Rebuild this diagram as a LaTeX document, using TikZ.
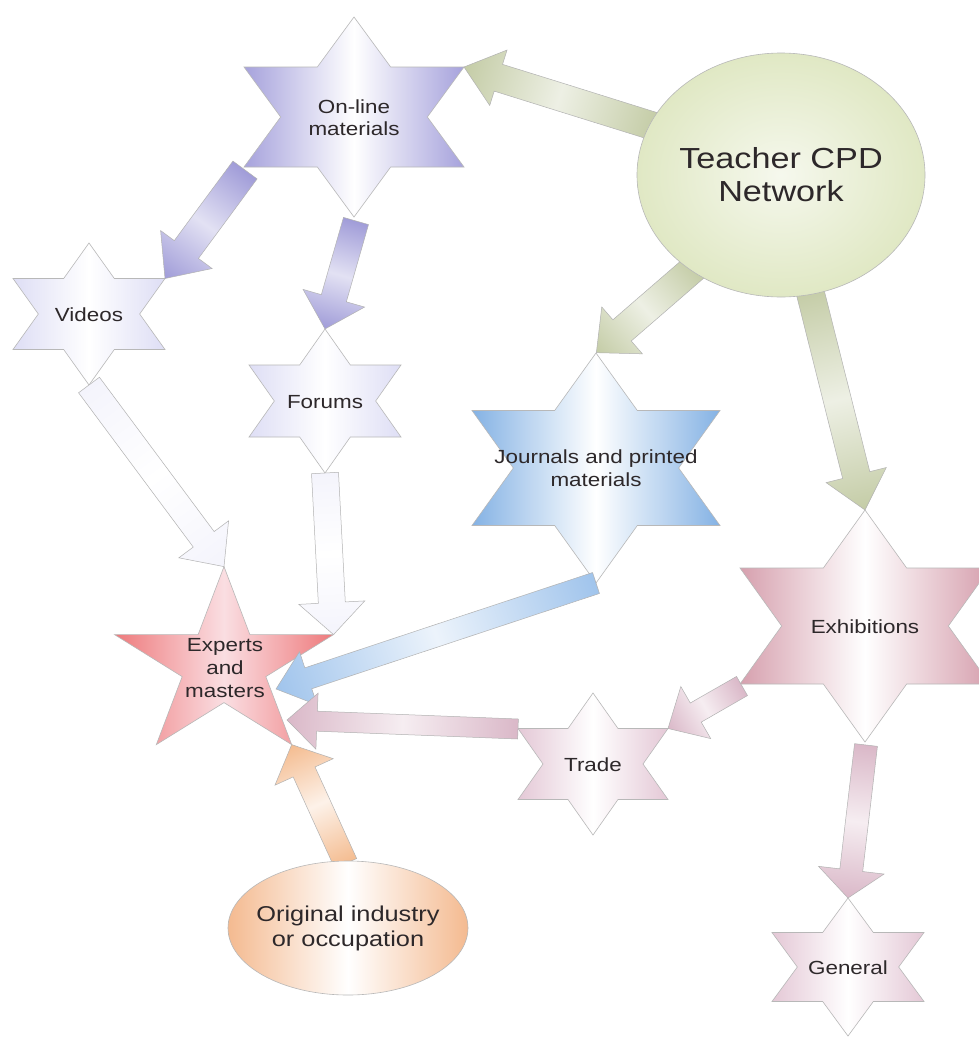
\documentclass[tikz,border=0pt]{standalone}
\usepackage{fontspec}
\setmainfont{Liberation Sans}[FakeStretch=1.18]
\usetikzlibrary{calc,shapes.geometric}

\definecolor{txt}{RGB}{45,40,42}
\definecolor{onlinePurple}{RGB}{166,162,220}
\definecolor{paleLav}{RGB}{222,222,245}
\definecolor{jBlue}{RGB}{132,178,228}
\definecolor{exPink}{RGB}{214,160,174}
\definecolor{palePink}{RGB}{228,200,214}
\definecolor{expRed}{RGB}{238,122,124}
\definecolor{expPale}{RGB}{250,222,226}
\definecolor{cpdGreen}{RGB}{224,232,196}
\definecolor{origOrange}{RGB}{244,186,144}
\definecolor{arGreen}{RGB}{196,204,166}
\definecolor{arPurple}{RGB}{160,156,216}
\definecolor{arBlue}{RGB}{160,196,236}
\definecolor{arPink}{RGB}{218,184,200}
\definecolor{arOrange}{RGB}{244,188,144}
\definecolor{arWhite}{RGB}{244,244,252}

\newdimen\arTx \newdimen\arTy \newdimen\arHx \newdimen\arHy

% block arrow from a tail coordinate to a tip coordinate
% #1 style, #2 tail, #3 tip, #4 shaft width, #5 head width, #6 head length
\newcommand\blockarrow[6]{%
  \pgfextractx{\arTx}{\pgfpointanchor{#2}{center}}%
  \pgfextracty{\arTy}{\pgfpointanchor{#2}{center}}%
  \pgfextractx{\arHx}{\pgfpointanchor{#3}{center}}%
  \pgfextracty{\arHy}{\pgfpointanchor{#3}{center}}%
  \pgfmathsetmacro\arAng{atan2(\arHy-\arTy,\arHx-\arTx)}%
  \pgfmathsetmacro\arLen{veclen(\arHx-\arTx,\arHy-\arTy)}%
  \pgfmathsetmacro\arNeck{\arLen-#6}%
  \pgfmathsetmacro\arS{#4/2}%
  \pgfmathsetmacro\arH{#5/2}%
  \edef\arSx{\the\arTx}\edef\arSy{\the\arTy}%
  \begin{scope}[transform canvas={shift={(\arSx,\arSy)},rotate=\arAng}]
    \path[#1] (0pt,-\arS pt) -- (\arNeck pt,-\arS pt) -- (\arNeck pt,-\arH pt)
      -- (\arLen pt,0pt) -- (\arNeck pt,\arH pt) -- (\arNeck pt,\arS pt)
      -- (0pt,\arS pt) -- cycle;
  \end{scope}}

% six-pointed star: #1 name, #2 x, #3 y, #4 half width, #5 half height, #6 style
\newcommand\hexstar[6]{%
  \begin{scope}[shift={(#2,#3)}]
    \path[#6] (0,-#5) coordinate (#1-1) -- (#4/3,-#5/2) coordinate (#1-2)
      -- (#4,-#5/2) coordinate (#1-3) -- (2*#4/3,0) coordinate (#1-4)
      -- (#4,#5/2) coordinate (#1-5) -- (#4/3,#5/2) coordinate (#1-6)
      -- (0,#5) coordinate (#1-7) -- (-#4/3,#5/2) coordinate (#1-8)
      -- (-#4,#5/2) coordinate (#1-9) -- (-2*#4/3,0) coordinate (#1-10)
      -- (-#4,-#5/2) coordinate (#1-11) -- (-#4/3,-#5/2) coordinate (#1-12)
      -- cycle;
  \end{scope}}

\tikzset{
  outline/.style={draw=black!28, line width=0.6pt},
  hfill/.style 2 args={outline, left color=#1, right color=#1, middle color=#2},
  lbl/.style={align=center, text=txt, inner sep=0pt,
    font=\fontsize{19}{22}\selectfont},
  arrowline/.style={draw=black!30, line width=0.5pt},
  barrow/.style 2 args={arrowline, left color=#1, right color=#1, middle color=#2},
}

\begin{document}
\begin{tikzpicture}[x=1pt, y=-1pt]
\useasboundingbox (0,0) rectangle (979,1037);
\clip (0,0) rectangle (979,1037);
\fill[white] (0,0) rectangle (979,1037);

% six-pointed stars
\hexstar{online}{354}{117}{110}{100}{hfill={onlinePurple}{white}}
\hexstar{videos}{89}{314}{76}{71}{hfill={paleLav}{white}}
\hexstar{forums}{325}{401}{76}{72}{hfill={paleLav}{white}}
\hexstar{journals}{596}{468}{124}{115}{hfill={jBlue}{white}}
\hexstar{exhib}{865}{626}{125}{116}{hfill={exPink}{white}}
\hexstar{trade}{593}{764}{75}{71}{hfill={palePink}{white}}
\hexstar{general}{848}{967}{76}{69}{hfill={palePink}{white}}

% five-pointed star
\begin{scope}[shift={(224,665)}, xscale=1.17]
  \path[hfill={expRed}{expPale}]
    (-90:98.4) coordinate (experts-1) -- (-54:37.6)
    -- (-18:98.4) coordinate (experts-2) -- (18:37.6)
    -- (54:98.4) coordinate (experts-3) -- (90:37.6)
    -- (126:98.4) coordinate (experts-4) -- (162:37.6)
    -- (198:98.4) coordinate (experts-5) -- (234:37.6) -- cycle;
\end{scope}

% the two ellipses, placed first so that the arrows can start from them
\path (781,175) node[ellipse, minimum width=288pt, minimum height=244pt, inner sep=0pt] (cpd) {};
\path (348,928) node[ellipse, minimum width=240pt, minimum height=134pt, inner sep=0pt] (orig) {};

% arrow end points
\coordinate (a1-tail) at ($(cpd.center)!0.96!(cpd.159)$);
\coordinate (a2-tail) at (245,170);
\coordinate (a3-tail) at (356,221);
\coordinate (a4-tail) at ($(cpd.center)!0.96!(cpd.227)$);
\coordinate (a5-tail) at ($(cpd.center)!0.96!(cpd.284)$);
\coordinate (a8-tip) at (276,689);
\coordinate (a9-tail) at (518,729);
\coordinate (a9-tip) at (287,720);
\coordinate (a10-tail) at (742,686);
\coordinate (a11-tail) at (866,745);
\coordinate (a12-tail) at ($(orig.center)!0.96!(orig.92)$);

% connectors
\blockarrow{barrow={arGreen}{arGreen!30}}{a1-tail}{online-3}{28}{58}{36}
\blockarrow{barrow={arPurple}{arPurple!30}}{a2-tail}{videos-3}{30}{64}{36}
\blockarrow{barrow={arPurple}{arPurple!30}}{a3-tail}{forums-1}{26}{64}{32}
\blockarrow{barrow={arGreen}{arGreen!30}}{a4-tail}{journals-1}{28}{62}{34}
\blockarrow{barrow={arGreen}{arGreen!30}}{a5-tail}{exhib-1}{28}{62}{36}
\blockarrow{barrow={arWhite}{white}}{videos-7}{experts-1}{26}{62}{34}
\blockarrow{barrow={arWhite}{white}}{forums-7}{experts-2}{27}{66}{32}
\blockarrow{barrow={arBlue}{arBlue!20}}{journals-7}{a8-tip}{22}{56}{34}
\blockarrow{barrow={arPink}{arPink!25}}{a9-tail}{a9-tip}{20}{56}{30}
\blockarrow{barrow={arPink}{arPink!25}}{a10-tail}{trade-3}{22}{60}{32}
\blockarrow{barrow={arPink}{arPink!25}}{a11-tail}{general-1}{23}{66}{28}
\blockarrow{barrow={arOrange}{arOrange!20}}{a12-tail}{experts-3}{24}{64}{30}

% ellipse fills drawn over the arrow tails
\path[outline, inner color=cpdGreen!30, outer color=cpdGreen]
  (cpd.center) ellipse [x radius=144, y radius=122];
\path[outline, left color=origOrange, right color=origOrange, middle color=white]
  (orig.center) ellipse [x radius=120, y radius=67];

% texts
\node[lbl, font=\fontsize{29}{33}\selectfont] (cpdtext) at (cpd.center) {Teacher CPD\\Network};
\node[lbl, font=\fontsize{21.5}{25}\selectfont] (origtext) at (orig.center) {Original industry\\or occupation};
\node[lbl] (online) at (354,118) {On-line\\materials};
\node[lbl] (videos) at (89,315) {Videos};
\node[lbl] (forums) at (325,402) {Forums};
\node[lbl, font=\fontsize{19}{23}\selectfont] (journals) at (596,468) {Journals and printed\\materials};
\node[lbl] (exhib) at (865,627) {Exhibitions};
\node[lbl] (trade) at (593,765) {Trade};
\node[lbl] (general) at (848,968) {General};
\node[lbl, font=\fontsize{19}{23}\selectfont] (experts) at (225,668) {Experts\\and\\masters};
\end{tikzpicture}
\end{document}
